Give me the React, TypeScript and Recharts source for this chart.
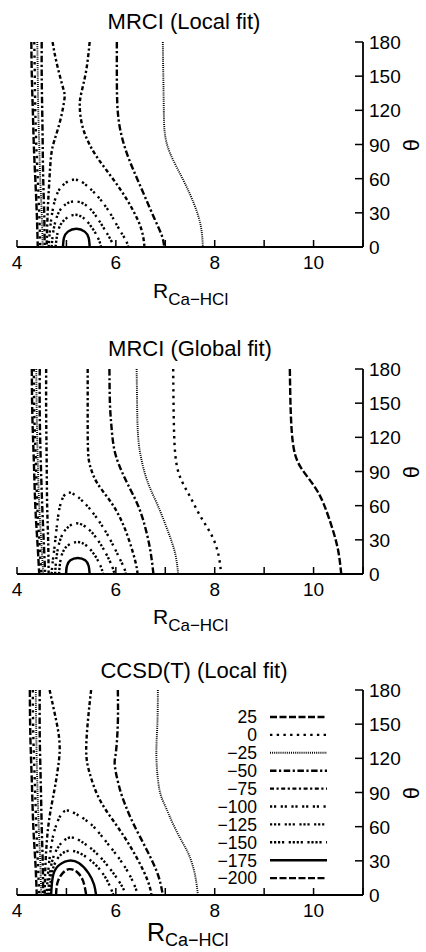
import React from 'react';
import { LineChart, Line, XAxis, YAxis, Legend } from 'recharts';

const FONT = '"Liberation Sans", Arial, Helvetica, sans-serif';

// contour levels shown in the key
const LEVELS = [25, 0, -25, -50, -75, -100, -125, -150, -175, -200];
const R_TICKS = [4, 5, 6, 7, 8, 9, 10, 11];
const R_LABELED = [4, 6, 8, 10];
const THETA_TICKS = [0, 30, 60, 90, 120, 150, 180];

// contour branches as [R, theta] pairs

// MRCI (Local fit)
const local25 = [[4.29, 180], [4.3, 150], [4.32, 120], [4.34, 90], [4.37, 60], [4.4, 30], [4.42, 0]];
const local0 = [[4.35, 180], [4.36, 150], [4.37, 120], [4.39, 90], [4.42, 60], [4.45, 30], [4.47, 0]];
const localM25L = [[4.41, 180], [4.42, 150], [4.43, 120], [4.45, 90], [4.47, 60], [4.5, 30], [4.52, 0]];
const localM25R = [[6.95, 180], [6.96, 150], [6.97, 120], [6.99, 100], [7.1, 82], [7.35, 60], [7.58, 38], [7.72, 18], [7.76, 0]];
const localM50L = [[4.5, 180], [4.5, 150], [4.51, 120], [4.52, 90], [4.53, 60], [4.55, 30], [4.56, 0]];
const localM50R = [[6.02, 180], [6.02, 150], [6.03, 125], [6.08, 105], [6.2, 85], [6.38, 65], [6.58, 45], [6.78, 25], [6.93, 10], [6.98, 0]];
const localM75L = [[4.72, 180], [4.8, 162], [4.93, 140], [4.96, 130], [4.88, 112], [4.76, 94], [4.69, 80], [4.65, 55], [4.62, 30], [4.6, 0]];
const localM75R = [[5.47, 180], [5.4, 155], [5.3, 135], [5.27, 123], [5.33, 105], [5.53, 85], [5.8, 68], [6.1, 50], [6.35, 32], [6.52, 15], [6.58, 0]];
const localM100 = [[4.64, 0], [4.68, 20], [4.76, 40], [4.9, 53], [5.13, 59], [5.35, 56], [5.6, 46], [5.85, 32], [6.05, 17], [6.2, 6], [6.25, 0]];
const localM125 = [[4.7, 0], [4.74, 15], [4.84, 30], [5.0, 38], [5.16, 40], [5.35, 38], [5.55, 30], [5.75, 17], [5.9, 6], [5.96, 0]];
const localM150 = [[4.78, 0], [4.82, 12], [4.92, 22], [5.13, 28], [5.33, 26], [5.5, 18], [5.64, 8], [5.7, 0]];
const localM175 = [[4.93, 0], [4.95, 8], [5.03, 13.5], [5.2, 16], [5.37, 13.5], [5.45, 8], [5.47, 0]];

// MRCI (Global fit)
const glob25L = [[4.3, 180], [4.31, 140], [4.34, 100], [4.37, 60], [4.41, 30], [4.45, 0]];
const glob25R = [[9.52, 180], [9.54, 140], [9.6, 110], [9.75, 93], [10.0, 78], [10.2, 62], [10.38, 40], [10.5, 20], [10.56, 0]];
const glob0L = [[4.34, 180], [4.35, 140], [4.38, 100], [4.41, 60], [4.45, 30], [4.49, 0]];
const glob0R = [[7.16, 180], [7.17, 140], [7.2, 106], [7.3, 85], [7.5, 68], [7.72, 50], [7.95, 33], [8.08, 16], [8.13, 0]];
const globM25L = [[4.39, 180], [4.4, 140], [4.42, 100], [4.45, 60], [4.49, 30], [4.53, 0]];
const globM25R = [[6.42, 180], [6.43, 150], [6.45, 121], [6.52, 100], [6.65, 80], [6.85, 60], [7.05, 38], [7.2, 18], [7.26, 0]];
const globM50L = [[4.46, 180], [4.46, 140], [4.48, 100], [4.51, 60], [4.54, 30], [4.57, 0]];
const globM50R = [[5.87, 180], [5.88, 150], [5.91, 130], [5.97, 109], [6.1, 92], [6.25, 78], [6.45, 60], [6.6, 40], [6.7, 20], [6.76, 0]];
const globM75L = [[4.59, 180], [4.59, 140], [4.6, 100], [4.61, 60], [4.63, 30], [4.64, 0]];
const globM75R = [[5.43, 180], [5.43, 140], [5.44, 106], [5.5, 92], [5.62, 80], [5.87, 65], [6.1, 48], [6.28, 28], [6.4, 10], [6.44, 0]];
const globM100 = [[4.7, 0], [4.72, 10], [4.76, 24], [4.83, 50], [4.9, 64], [5.0, 71], [5.15, 70], [5.35, 63], [5.6, 50], [5.85, 33], [6.05, 16], [6.17, 5], [6.2, 0]];
const globM125 = [[4.77, 0], [4.81, 18], [4.9, 33], [5.03, 41], [5.2, 44.5], [5.4, 41], [5.6, 32], [5.8, 18], [5.93, 6], [5.97, 0]];
const globM150 = [[4.85, 0], [4.88, 12], [4.98, 23], [5.2, 28], [5.4, 25], [5.58, 16], [5.7, 6], [5.74, 0]];
const globM175 = [[4.99, 0], [5.01, 7], [5.08, 12], [5.23, 14], [5.38, 12], [5.45, 7], [5.47, 0]];

// CCSD(T) (Local fit)
const cc25 = [[4.26, 180], [4.27, 140], [4.3, 100], [4.33, 60], [4.37, 30], [4.4, 0]];
const cc0 = [[4.32, 180], [4.33, 140], [4.36, 100], [4.39, 60], [4.42, 30], [4.45, 0]];
const ccM25L = [[4.38, 180], [4.39, 140], [4.41, 100], [4.44, 60], [4.47, 30], [4.49, 0]];
const ccM25R = [[6.85, 180], [6.84, 150], [6.82, 122], [6.88, 93], [7.0, 78], [7.15, 63], [7.35, 46], [7.49, 34], [7.6, 18], [7.66, 0]];
const ccM50L = [[4.46, 180], [4.46, 140], [4.48, 100], [4.5, 60], [4.52, 30], [4.53, 0]];
const ccM50R = [[6.04, 180], [6.04, 151], [6.0, 125], [5.98, 113], [6.08, 93], [6.2, 78], [6.35, 63], [6.62, 40], [6.85, 18], [6.95, 0]];
const ccM75L = [[4.66, 180], [4.76, 160], [4.86, 134], [4.83, 112], [4.76, 93], [4.66, 69], [4.6, 45], [4.57, 20], [4.56, 0]];
const ccM75R = [[5.5, 180], [5.45, 160], [5.4, 128], [5.47, 107], [5.67, 84], [6.0, 62], [6.3, 42], [6.55, 22], [6.68, 8], [6.72, 0]];
const ccM100 = [[4.6, 0], [4.63, 20], [4.7, 45], [4.8, 62], [4.96, 73.6], [5.2, 71], [5.5, 62], [5.8, 47], [6.1, 30], [6.32, 14], [6.45, 0]];
const ccM125 = [[4.63, 0], [4.67, 20], [4.78, 38], [5.03, 50], [5.3, 47], [5.6, 37], [5.9, 22], [6.12, 8], [6.2, 0]];
const ccM150 = [[4.66, 0], [4.7, 18], [4.82, 32], [5.03, 38.7], [5.3, 36], [5.6, 26], [5.82, 13], [5.95, 0]];
const ccM175 = [[4.69, 0], [4.72, 15], [4.82, 25], [5.03, 30], [5.25, 28], [5.45, 19], [5.56, 9], [5.6, 0]];
const ccM200 = [[4.79, 0], [4.82, 11], [4.92, 19], [5.06, 22.7], [5.22, 20], [5.34, 12], [5.4, 0]];

// line style per level (gnuplot-ish dash patterns)
const DASH: Record<number, string | undefined> = {
  25: '7 2.5',
  0: '2.4 4.3',
  [-25]: '1 1.1',
  [-50]: '6.5 2.5 2.2 2.5',
  [-75]: '4 2.5 2.2 2.5',
  [-100]: '2.2 1.8 2.2 4.5',
  [-125]: '2.2 1.8 2.2 1.8 2.2 4.5',
  [-150]: '2.2 1.8 2.2 1.8 2.2 1.8 2.2 4.5',
  [-175]: undefined,
  [-200]: '7 2.5',
};
const WIDTH: Record<number, number> = { [-25]: 1.9, [-175]: 2.4 };
const LINE_W = 2.4;

const fmt = (v: number) => (v < 0 ? '\u2212' + Math.abs(v) : String(v));
const toPts = (a: number[][]) => a.map(([r, t]) => ({ r, t }));

type Branch = { level: number; pts: number[][] };

const PANELS: { title: string; top: number; height: number; plotTop: number; titleX: number; titleY: number; labX: number; labY: number; rSize: number; subSize: number; subShift: number; legend?: boolean; branches: Branch[] }[] = [
  {
    title: 'MRCI (Local fit)', top: 0, height: 320, plotTop: 42,
    titleX: 184, titleY: 30, labX: 153, labY: 298, rSize: 21, subSize: 17, subShift: 7,
    branches: [
      { level: 25, pts: local25 }, { level: 0, pts: local0 },
      { level: -25, pts: localM25L }, { level: -25, pts: localM25R },
      { level: -50, pts: localM50L }, { level: -50, pts: localM50R },
      { level: -75, pts: localM75L }, { level: -75, pts: localM75R },
      { level: -100, pts: localM100 }, { level: -125, pts: localM125 },
      { level: -150, pts: localM150 }, { level: -175, pts: localM175 },
    ],
  },
  {
    title: 'MRCI (Global fit)', top: 320, height: 320, plotTop: 49,
    titleX: 190, titleY: 37, labX: 153, labY: 304, rSize: 21, subSize: 17, subShift: 7,
    branches: [
      { level: 25, pts: glob25L }, { level: 25, pts: glob25R },
      { level: 0, pts: glob0L }, { level: 0, pts: glob0R },
      { level: -25, pts: globM25L }, { level: -25, pts: globM25R },
      { level: -50, pts: globM50L }, { level: -50, pts: globM50R },
      { level: -75, pts: globM75L }, { level: -75, pts: globM75R },
      { level: -100, pts: globM100 }, { level: -125, pts: globM125 },
      { level: -150, pts: globM150 }, { level: -175, pts: globM175 },
    ],
  },
  {
    title: 'CCSD(T) (Local fit)', top: 640, height: 312, plotTop: 50,
    titleX: 194, titleY: 39, labX: 147, labY: 301, rSize: 25, subSize: 18, subShift: 5, legend: true,
    branches: [
      { level: 25, pts: cc25 }, { level: 0, pts: cc0 },
      { level: -25, pts: ccM25L }, { level: -25, pts: ccM25R },
      { level: -50, pts: ccM50L }, { level: -50, pts: ccM50R },
      { level: -75, pts: ccM75L }, { level: -75, pts: ccM75R },
      { level: -100, pts: ccM100 }, { level: -125, pts: ccM125 },
      { level: -150, pts: ccM150 }, { level: -175, pts: ccM175 },
      { level: -200, pts: ccM200 },
    ],
  },
];

const PLOT_H = 205;
const TICK_FS = 19;
const axisLine = { stroke: '#000', strokeWidth: 1.8 };

// ticks point into the plot, gnuplot style
const BottomTick = ({ x, y, payload }: any) => (
  <g>
    <line x1={x} x2={x} y1={y} y2={y - 7} stroke="#000" strokeWidth={1.5} />
    {R_LABELED.includes(payload.value) && (
      <text x={x} y={y + 22} textAnchor="middle" fontSize={TICK_FS} fill="#000" fontFamily={FONT}>{payload.value}</text>
    )}
  </g>
);
const TopTick = ({ x, y }: any) => <line x1={x} x2={x} y1={y} y2={y + 7} stroke="#000" strokeWidth={1.5} />;
const LeftTick = ({ x, y }: any) => <line x1={x} x2={x + 8} y1={y} y2={y} stroke="#000" strokeWidth={1.5} />;
const RightTick = ({ x, y, payload }: any) => (
  <g>
    <line x1={x} x2={x - 8} y1={y} y2={y} stroke="#000" strokeWidth={1.5} />
    <text x={x + 6} y={y + 7} textAnchor="start" fontSize={TICK_FS} fill="#000" fontFamily={FONT}>{payload.value}</text>
  </g>
);

const LegendBox = () => (
  <svg width={140} height={182} style={{ overflow: 'visible' }}>
    {LEVELS.map((lv, i) => {
      const y = 9 + i * 17.9;
      return (
        <g key={lv}>
          <text x={57} y={y + 6.3} textAnchor="end" fontSize={17.5} fill="#000" fontFamily={FONT}>{fmt(lv)}</text>
          <line x1={70} x2={127} y1={y} y2={y} stroke="#000" strokeWidth={WIDTH[lv] ?? LINE_W} strokeDasharray={DASH[lv]} />
        </g>
      );
    })}
  </svg>
);

const Panel = ({ p }: { p: (typeof PANELS)[number] }) => (
  <div style={{ position: 'absolute', left: 0, top: p.top, width: 426, height: p.height }}>
    <LineChart width={426} height={p.height} margin={{ top: p.plotTop, right: 0, bottom: 0, left: 17 }}>
      <XAxis
        xAxisId="b" dataKey="r" type="number" domain={[4, 11]} allowDataOverflow
        ticks={R_TICKS} interval={0} height={p.height - p.plotTop - PLOT_H}
        tickSize={0} tickMargin={0} axisLine={axisLine} tickLine={false} tick={BottomTick}
      />
      <XAxis
        xAxisId="t" orientation="top" dataKey="r" type="number" domain={[4, 11]} allowDataOverflow
        ticks={R_TICKS} interval={0} height={0}
        tickSize={0} tickMargin={0} axisLine={axisLine} tickLine={false} tick={TopTick}
      />
      <YAxis
        yAxisId="l" orientation="left" type="number" domain={[0, 180]} allowDataOverflow
        ticks={THETA_TICKS} interval={0} width={0}
        tickSize={0} tickMargin={0} axisLine={axisLine} tickLine={false} tick={LeftTick}
      />
      <YAxis
        yAxisId="r" orientation="right" type="number" domain={[0, 180]} allowDataOverflow
        ticks={THETA_TICKS} interval={0} width={63}
        tickSize={0} tickMargin={0} axisLine={axisLine} tickLine={false} tick={RightTick}
      />
      {p.branches.map((b, i) => (
        <Line
          key={i}
          xAxisId="b"
          yAxisId="r"
          data={toPts(b.pts)}
          dataKey="t"
          name={fmt(b.level)}
          type="natural"
          stroke="#000"
          strokeWidth={WIDTH[b.level] ?? LINE_W}
          strokeDasharray={DASH[b.level]}
          dot={false}
          activeDot={false}
          legendType="none"
          isAnimationActive={false}
        />
      ))}
      {p.legend && (
        <Legend
          layout="vertical" align="center" verticalAlign="middle"
          wrapperStyle={{ left: 200, top: 68, width: 140, height: 182 }}
          content={() => <LegendBox />}
        />
      )}
    </LineChart>
    <div style={{ position: 'absolute', left: p.titleX - 150, width: 300, top: p.titleY - 18.6, fontSize: 22, lineHeight: 1, textAlign: 'center' }}>
      {p.title}
    </div>
    <div style={{ position: 'absolute', left: 402, width: 20, top: p.plotTop + PLOT_H / 2 - 11, fontSize: 22, lineHeight: 1, textAlign: 'center', transform: 'rotate(-90deg)' }}>
      θ
    </div>
    <div style={{ position: 'absolute', left: p.labX, top: p.labY - 0.846 * p.rSize, fontSize: p.rSize, lineHeight: 1, whiteSpace: 'nowrap' }}>
      R<span style={{ fontSize: p.subSize, position: 'relative', top: p.subShift }}>Ca{'\u2212'}HCl</span>
    </div>
  </div>
);

export default function App() {
  return (
    <div style={{ position: 'absolute', left: 0, top: 0, width: 426, height: 952, overflow: 'hidden', background: '#fff', fontFamily: FONT, color: '#000' }}>
      {PANELS.map((p) => (
        <Panel key={p.title} p={p} />
      ))}
    </div>
  );
}
